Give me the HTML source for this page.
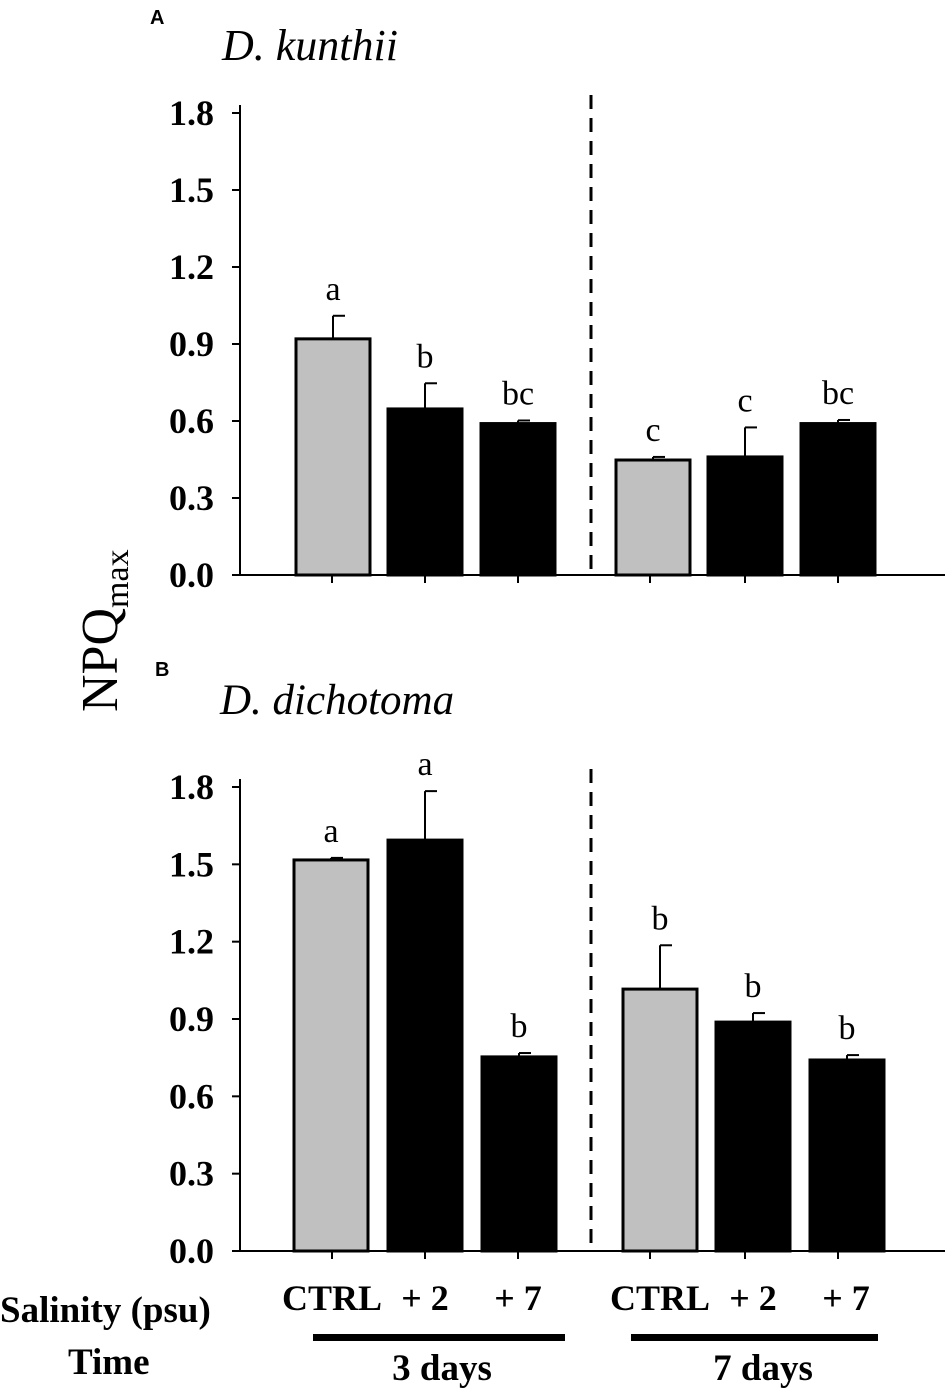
<!DOCTYPE html>
<html><head><meta charset="utf-8"><style>
html,body{margin:0;padding:0;background:#fff;}
svg{display:block;font-family:"Liberation Serif",serif;}
</style></head><body>
<svg id="chart" width="945" height="1390" viewBox="0 0 945 1390">
<text x="150" y="24" font-family="Liberation Sans" font-weight="bold" font-size="20">A</text>
<text x="222" y="60" font-style="italic" font-size="44">D. kunthii</text>
<text x="155" y="676" font-family="Liberation Sans" font-weight="bold" font-size="20">B</text>
<text x="220" y="714" font-style="italic" font-size="43">D. dichotoma</text>
<text transform="translate(117,712) rotate(-90)" font-size="52">NPQ<tspan font-size="34" dy="11">max</tspan></text>
<g id="a"></g><g id="b"></g>
<g font-weight="bold" font-size="37">
<text x="0" y="1322">Salinity (psu)</text>
<text x="68" y="1374">Time</text>
<text x="442" y="1380" text-anchor="middle">3 days</text>
<text x="763" y="1380" text-anchor="middle">7 days</text>
</g>
<rect x="313" y="1334" width="252" height="7" fill="#000"/>
<rect x="631" y="1334" width="247" height="7" fill="#000"/>
</svg>
<script>
const categories=["CTRL","+ 2","+ 7","CTRL","+ 2","+ 7"];
const valuesA=[0.92,0.647,0.59,0.448,0.46,0.59];
const errA=[0.09,0.10,0.012,0.012,0.115,0.014];
const lettersA=["a","b","bc","c","c","bc"];
const valuesB=[1.517,1.594,0.753,1.016,0.888,0.741];
const errB=[0.008,0.19,0.015,0.17,0.035,0.019];
const lettersB=["a","a","b","b","b","b"];
const ticks=[0,0.3,0.6,0.9,1.2,1.5,1.8];
const tickLabels=["0.0","0.3","0.6","0.9","1.2","1.5","1.8"];
const NS="http://www.w3.org/2000/svg";
function mk(p,t,a){const e=document.createElementNS(NS,t);for(const k in a)e.setAttribute(k,a[k]);p.appendChild(e);return e;}
function panel(g,y0,y18,bx,vals,errs,lets,ticksX,pid){
  const y=v=>y0-(v/1.8)*(y0-y18);
  const ax=mk(g,"line",{x1:240,y1:y18-8,x2:240,y2:y0,stroke:"#000","stroke-width":2});
  
  const xa=mk(g,"line",{x1:232,y1:y0,x2:945,y2:y0,stroke:"#000","stroke-width":2});
  
  ticks.forEach((t,i)=>{
    mk(g,"line",{x1:232,y1:y(t),x2:240,y2:y(t),stroke:"#000","stroke-width":2});
    const tl=mk(g,"text",{x:214,y:y(t)+12,"text-anchor":"end","font-weight":"bold","font-size":36});
    tl.textContent=tickLabels[i];
    
  });
  ticksX.forEach(x=>mk(g,"line",{x1:x,y1:y0,x2:x,y2:y0+8,stroke:"#000","stroke-width":2}));
  const dl=mk(g,"line",{x1:591,y1:y18-18,x2:591,y2:y0,stroke:"#000","stroke-width":3,"stroke-dasharray":"14,9"});
  
  vals.forEach((v,i)=>{
    const x=bx[i],w=74,top=y(v),et=y(v+errs[i]);
    mk(g,"line",{x1:x+w/2,y1:top,x2:x+w/2,y2:et,stroke:"#000","stroke-width":2});
    mk(g,"line",{x1:x+w/2,y1:et,x2:x+w/2+12,y2:et,stroke:"#000","stroke-width":2});
    const r=mk(g,"rect",{x:x,y:top,width:w,height:y0-top,fill:(i%3==0)?"#c0c0c0":"#000",stroke:"#000","stroke-width":3});
    
    const lt=mk(g,"text",{x:x+w/2,y:et-16,"text-anchor":"middle","font-size":34});
    lt.textContent=lets[i];
    
  });
}
panel(document.getElementById("a"),575,113,[296,388,481,616,708,801],valuesA,errA,lettersA,[332,425,518,650,745,838],"panel-a");
panel(document.getElementById("b"),1251,787,[294,388,482,623,716,810],valuesB,errB,lettersB,[332,425,518,650,745,838],"panel-b");
const cx=[332,425,518,660,753,846];
const gb=document.getElementById("b");
categories.forEach((c,i)=>{
  const t=mk(gb,"text",{x:cx[i],y:1310,"text-anchor":"middle","font-weight":"bold","font-size":36});
  t.textContent=c;
  
});
</script>
</body></html>
